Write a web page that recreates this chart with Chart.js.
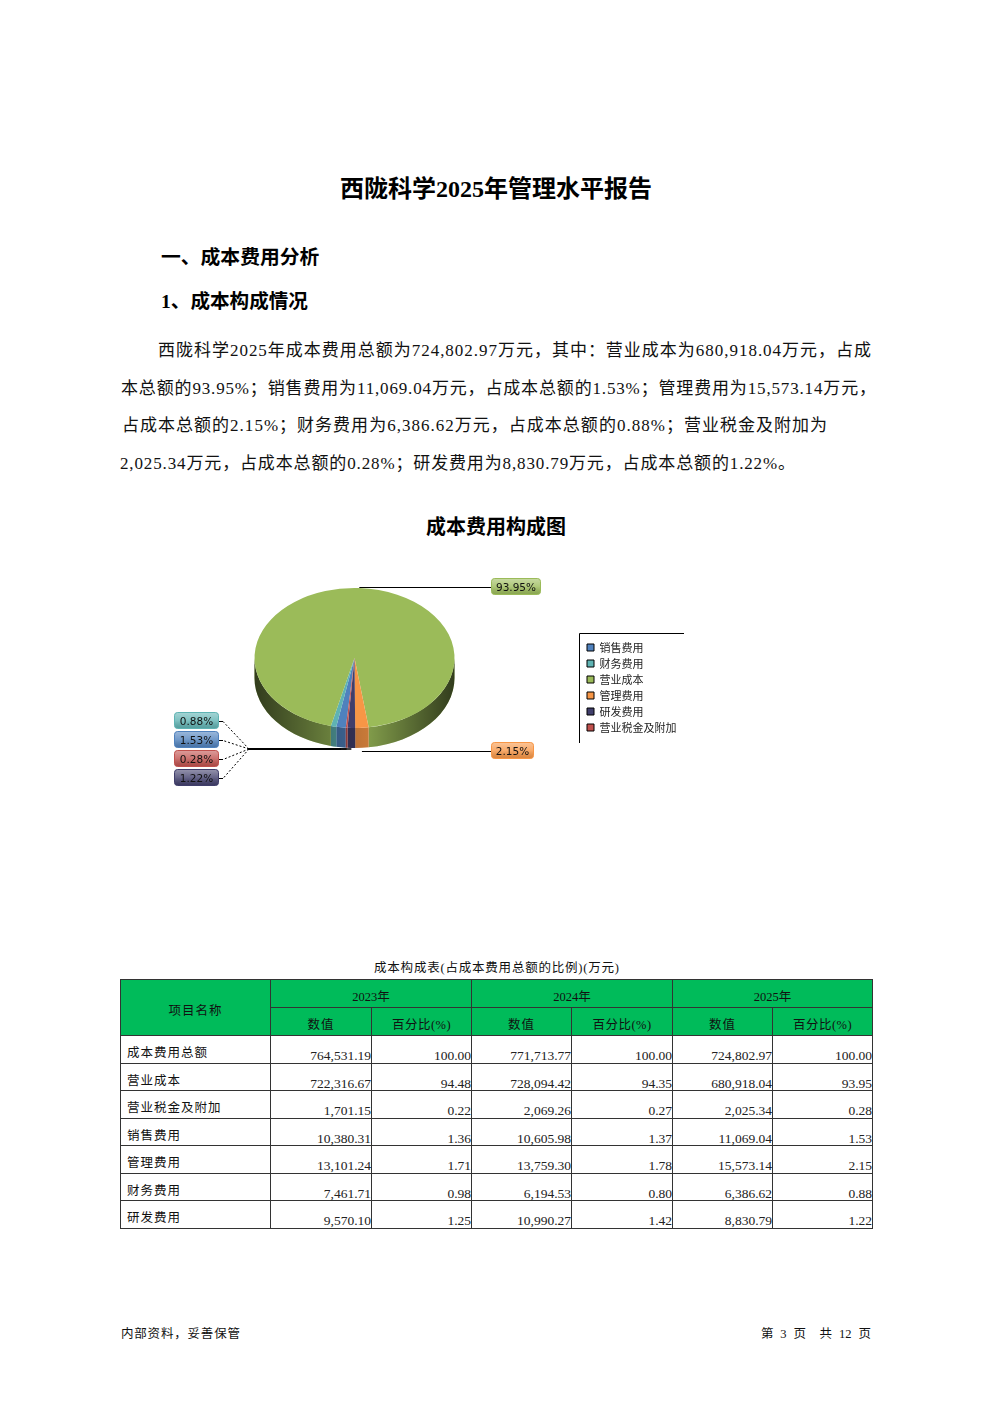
<!DOCTYPE html>
<html>
<head>
<meta charset="utf-8">
<script src="https://cdn.jsdelivr.net/npm/chart.js@4/dist/chart.umd.js"></script>
<style>
html, body { margin: 0; padding: 0; background: #fff; }
body { position: relative; width: 992px; height: 1403px; overflow: hidden;
  font-family: "Liberation Serif", "Noto Sans CJK SC", serif; color: #111; }
.t { position: absolute; white-space: nowrap; line-height: 1; }
.h { font-weight: bold; color: #000; }
.p { font-size: 17px; }
canvas { position: absolute; left: 120px; top: 548px; }
table { position: absolute; left: 120px; top: 979px; width: 752px; table-layout: fixed;
  border-collapse: collapse; font-size: 13.5px; }
td, th { border: 1px solid #333; padding: 0; font-weight: normal; }
thead td { background: #00bb5a; text-align: center; font-size: 12.5px; padding-top: 3px; box-sizing: border-box; }
tbody td.name { padding-left: 6px; padding-top: 5px; box-sizing: border-box; font-size: 12.5px; letter-spacing: 1px; }
tbody td.num { text-align: right; vertical-align: bottom; line-height: 1; color: #222; }
</style>
</head>
<body>
<div class="t h" style="left:340px;top:177px;font-size:24px">西陇科学2025年管理水平报告</div>
<div class="t h" style="left:161px;top:248px;font-size:19.8px">一、成本费用分析</div>
<div class="t h" style="left:161px;top:292px;font-size:19.6px">1、成本构成情况</div>
<div class="t p" data-w="713" style="left:158px;top:342px">西陇科学2025年成本费用总额为724,802.97万元，其中：营业成本为680,918.04万元，占成</div>
<div class="t p" data-w="755" style="left:121px;top:380px">本总额的93.95%；销售费用为11,069.04万元，占成本总额的1.53%；管理费用为15,573.14万元，</div>
<div class="t p" data-w="705" style="left:122px;top:417px">占成本总额的2.15%；财务费用为6,386.62万元，占成本总额的0.88%；营业税金及附加为</div>
<div class="t p" data-w="675" style="left:120px;top:455px">2,025.34万元，占成本总额的0.28%；研发费用为8,830.79万元，占成本总额的1.22%。</div>
<div class="t h" style="left:426px;top:517px;font-size:20px">成本费用构成图</div>

<canvas id="myChart" width="600" height="260"></canvas>

<div class="t" data-w="245" style="left:374px;top:962px;font-size:12.5px">成本构成表(占成本费用总额的比例)(万元)</div>
<table id="costTable"></table>

<div class="t" data-w="119" style="left:121px;top:1328px;font-size:12.5px">内部资料，妥善保管</div>
<div class="t" data-w="110" style="left:761px;top:1328px;font-size:12.5px">第 &nbsp;3 &nbsp;页 &nbsp; &nbsp;共 &nbsp;12 &nbsp;页</div>

<script>
// chart data
var categories = ['销售费用', '财务费用', '营业成本', '管理费用', '研发费用', '营业税金及附加'];
var costs2025 = [11069.04, 6386.62, 680918.04, 15573.14, 8830.79, 2025.34];
var shareLabels = ['1.53%', '0.88%', '93.95%', '2.15%', '1.22%', '0.28%'];
var sliceColors = ['#4f81bd', '#5fb3b3', '#9bbb59', '#f79646', '#403e6b', '#c0504d'];

// table data
var years = ['2023年', '2024年', '2025年'];
var rowNames = ['成本费用总额', '营业成本', '营业税金及附加', '销售费用', '管理费用', '财务费用', '研发费用'];
var values2023 = ['764,531.19', '722,316.67', '1,701.15', '10,380.31', '13,101.24', '7,461.71', '9,570.10'];
var shares2023 = ['100.00', '94.48', '0.22', '1.36', '1.71', '0.98', '1.25'];
var values2024 = ['771,713.77', '728,094.42', '2,069.26', '10,605.98', '13,759.30', '6,194.53', '10,990.27'];
var shares2024 = ['100.00', '94.35', '0.27', '1.37', '1.78', '0.80', '1.42'];
var values2025 = ['724,802.97', '680,918.04', '2,025.34', '11,069.04', '15,573.14', '6,386.62', '8,830.79'];
var shares2025 = ['100.00', '93.95', '0.28', '1.53', '2.15', '0.88', '1.22'];

// build the table
var html = '<colgroup><col style="width:150px"><col style="width:101px"><col style="width:100px"><col style="width:100px"><col style="width:101px"><col style="width:100px"><col style="width:100px"></colgroup>';
html += '<thead><tr style="height:28px"><td rowspan="2" style="letter-spacing:1px">项目名称</td>';
years.forEach(function (y) { html += '<td colspan="2">' + y + '</td>'; });
html += '</tr><tr style="height:28px">';
years.forEach(function () { html += '<td style="letter-spacing:1px">数值</td><td style="letter-spacing:.5px">百分比(%)</td>'; });
html += '</tr></thead><tbody>';
rowNames.forEach(function (name, i) {
  html += '<tr style="height:27.5px"><td class="name">' + name + '</td>';
  [values2023, shares2023, values2024, shares2024, values2025, shares2025].forEach(function (col) {
    html += '<td class="num">' + col[i] + '</td>';
  });
  html += '</tr>';
});
document.getElementById('costTable').innerHTML = html + '</tbody></table>';

// stretch text lines out to the width they have on the page
document.querySelectorAll('[data-w]').forEach(function (el) {
  var extra = +el.dataset.w - el.getBoundingClientRect().width;
  el.style.letterSpacing = (extra / (el.textContent.length - 1)) + 'px';
});

var SQUASH = 0.7, DEPTH = 20, CANVAS_X = 120, CANVAS_Y = 548;

// where the value tags sit on the page, same order as categories
var tagBoxes = [
  { x: 174, y: 731, w: 45, h: 17, side: 'left' },
  { x: 174, y: 712, w: 45, h: 17, side: 'left' },
  { x: 491, y: 578, w: 50, h: 17, side: 'right' },
  { x: 491, y: 742, w: 43, h: 17, side: 'right' },
  { x: 174, y: 769, w: 45, h: 17, side: 'left' },
  { x: 174, y: 750, w: 45, h: 17, side: 'left' }
];

function pagePoint(px, py) { return [px - CANVAS_X, py - CANVAS_Y]; }

// tilts the pie and gives it a rim, the arcs themselves stay chart.js elements
var tiltPlugin = {
  id: 'tilt',
  afterLayout: function (chart) {
    var lg = chart.legend, h = lg.bottom - lg.top, w = lg.right - lg.left;
    lg.left = 582 - CANVAS_X; lg.right = lg.left + w;
    lg.top = 637 - CANVAS_Y; lg.bottom = lg.top + h;
    lg.adjustHitBoxes();
  },
  beforeDatasetsDraw: function (chart) {
    var ctx = chart.ctx, arcs = chart.getDatasetMeta(0).data;
    var cx = arcs[0].x, cy = arcs[0].y, r = arcs[0].outerRadius, ry = r * SQUASH;
    var shade = ctx.createLinearGradient(cx - r, 0, cx + r, 0);
    shade.addColorStop(0, 'rgba(0,0,0,0.68)');
    shade.addColorStop(0.4, 'rgba(0,0,0,0.3)');
    shade.addColorStop(0.58, 'rgba(0,0,0,0.18)');
    shade.addColorStop(1, 'rgba(0,0,0,0.68)');
    arcs.forEach(function (arc, i) {
      for (var k = -2; k < 3; k++) {
        var a = Math.max(arc.startAngle, 2 * Math.PI * k);
        var b = Math.min(arc.endAngle, 2 * Math.PI * k + Math.PI);
        if (b <= a) continue;
        ctx.beginPath();
        ctx.ellipse(cx, cy, r, ry, 0, a, b);
        ctx.ellipse(cx, cy + DEPTH, r, ry, 0, b, a, true);
        ctx.closePath();
        ctx.fillStyle = sliceColors[i];
        ctx.fill();
        ctx.fillStyle = shade;
        ctx.fill();
      }
    });
    ctx.save();
    ctx.translate(0, cy);
    ctx.scale(1, SQUASH);
    ctx.translate(0, -cy);
  },
  afterDatasetsDraw: function (chart) {
    chart.ctx.restore();
    drawTags(chart);
    // legend frame, only top and left lines are there
    var ctx = chart.ctx, p0 = pagePoint(579.5, 633.5), p1 = pagePoint(684, 743);
    ctx.strokeStyle = '#000';
    ctx.lineWidth = 1;
    ctx.setLineDash([]);
    ctx.beginPath();
    ctx.moveTo(p1[0], p0[1]);
    ctx.lineTo(p0[0], p0[1]);
    ctx.lineTo(p0[0], p1[1]);
    ctx.stroke();
  }
};

function drawTags(chart) {
  var ctx = chart.ctx, arcs = chart.getDatasetMeta(0).data;
  arcs.forEach(function (arc, i) {
    var box = tagBoxes[i], mid = (arc.startAngle + arc.endAngle) / 2;
    var ax = arc.x + arc.outerRadius * Math.cos(mid);
    var b = pagePoint(box.x, box.y);
    var boxMid = Math.round(b[1] + box.h / 2) + 0.5;

    ctx.strokeStyle = '#000';
    ctx.lineWidth = 1;
    ctx.setLineDash([]);
    ctx.beginPath();
    if (box.side === 'right') {
      ctx.moveTo(ax, boxMid);
      ctx.lineTo(b[0], boxMid);
      ctx.stroke();
    } else {
      var elbow = pagePoint(249, 749);
      ctx.lineWidth = 1.5;
      ctx.moveTo(ax, elbow[1]);
      ctx.lineTo(elbow[0], elbow[1]);
      ctx.stroke();
      ctx.lineWidth = 1;
      ctx.setLineDash([2, 2]);
      ctx.beginPath();
      ctx.moveTo(elbow[0], elbow[1]);
      ctx.lineTo(b[0] + box.w + 4, boxMid);
      ctx.stroke();
      ctx.setLineDash([]);
      ctx.beginPath();
      ctx.moveTo(b[0] + box.w + 4, boxMid);
      ctx.lineTo(b[0] + box.w, boxMid);
      ctx.stroke();
    }

    var g = ctx.createLinearGradient(0, b[1], 0, b[1] + box.h);
    g.addColorStop(0, 'rgba(255,255,255,0.45)');
    g.addColorStop(0.5, 'rgba(255,255,255,0.2)');
    g.addColorStop(1, 'rgba(0,0,0,0.12)');
    ctx.beginPath();
    ctx.roundRect(b[0] + 0.5, b[1] + 0.5, box.w - 1, box.h - 1, 3);
    ctx.fillStyle = sliceColors[i];
    ctx.fill();
    ctx.fillStyle = g;
    ctx.fill();
    ctx.strokeStyle = sliceColors[i];
    ctx.lineWidth = 1;
    ctx.stroke();

    ctx.fillStyle = '#111';
    ctx.font = '10.5px "DejaVu Sans"';
    ctx.textAlign = 'center';
    ctx.textBaseline = 'middle';
    ctx.fillText(shareLabels[i], b[0] + box.w / 2, boxMid + 0.5);
  });
}

var ctx = document.getElementById('myChart').getContext('2d');
var chartOne = new Chart(ctx, {
  type: 'pie',
  data: {
    labels: categories,
    datasets: [{
      data: costs2025,
      backgroundColor: sliceColors,
      borderWidth: 0
    }]
  },
  options: {
    responsive: false,
    animation: false,
    devicePixelRatio: 1,
    rotation: 185,
    layout: { padding: { left: 134.5, right: 265.5, top: 10, bottom: 50 } },
    plugins: {
      tooltip: { enabled: false },
      legend: {
        position: 'chartArea',
        align: 'start',
        labels: {
          boxWidth: 7,
          boxHeight: 7,
          padding: 5,
          color: '#222',
          font: { family: '"Noto Sans CJK SC"', size: 11 },
          generateLabels: function (chart) {
            return Chart.overrides.pie.plugins.legend.labels.generateLabels(chart).map(function (item) {
              item.strokeStyle = '#000';
              item.lineWidth = 1;
              return item;
            });
          }
        }
      }
    }
  },
  plugins: [tiltPlugin]
});
</script>
</body>
</html>
